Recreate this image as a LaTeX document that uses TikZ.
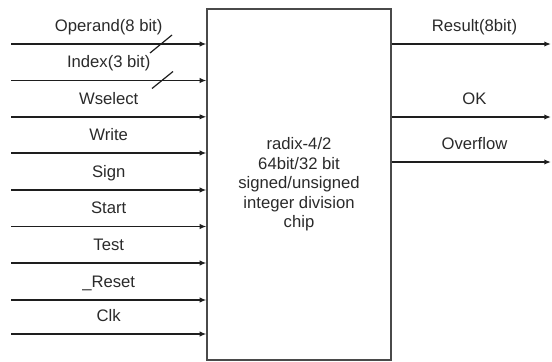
\documentclass[tikz,border=0pt]{standalone}
\usepackage{fontspec}
\setmainfont{Liberation Sans}
\usepackage{tikz}
\usetikzlibrary{arrows.meta,positioning}
\definecolor{wire}{HTML}{1E1E1E}
\definecolor{frame}{HTML}{4A4A4A}
\definecolor{ink}{HTML}{2A2A2A}
\newcommand{\chipfont}{\fontsize{12.5}{14.6}\selectfont}
\tikzset{
  chipbox/.style={draw=frame, line width=0.9pt, align=center, inner sep=0pt,
    minimum width=138pt, minimum height=263.25pt, font=\chipfont, text=ink},
  sig/.style={-{Latex[length=5pt,width=4pt]}, line width=1.1pt, draw=wire},
  siglabel/.style={font=\chipfont, text=ink, inner sep=0pt, text height=9pt,
    text depth=2.5pt, anchor=south, yshift=6.5pt},
  buswidth/.style={line width=0.9pt, draw=wire}
}

\begin{document}
\begin{tikzpicture}[x=0.75pt,y=-0.75pt]
        \useasboundingbox (0,0) rectangle (552,361);
        \node[chipbox] (chip) at (299,184.5)
          {radix-4/2\\64bit/32 bit\\signed/unsigned\\integer division\\chip};
        % inputs
        \foreach \y/\nm/\txt in {44/opnd/{Operand(8 bit)}, 80.5/idx/{Index(3 bit)},
            116.8/wsel/Wselect, 153/wr/Write, 190/sgn/Sign, 226.5/start/Start,
            263/test/Test, 300/rst/{\_Reset}, 334/clk/Clk} {
          \coordinate (\nm) at (11,\y);
          \draw[sig] (\nm) -- node[siglabel] {\txt} (\nm -| chip.west);
        }
        \draw[buswidth] (opnd) ++(139,9) -- ++(22,-18);
        \draw[buswidth] (idx) ++(141,8) -- ++(21,-17);
        % outputs
        \foreach \y/\nm/\txt in {44/res/{Result(8bit)}, 117/ok/OK, 162/ovf/Overflow} {
          \coordinate (\nm) at (551,\y);
          \draw[sig] (\nm -| chip.east) -- node[siglabel, pos=0.52] {\txt} (\nm);
        }
      \end{tikzpicture}
\end{document}
